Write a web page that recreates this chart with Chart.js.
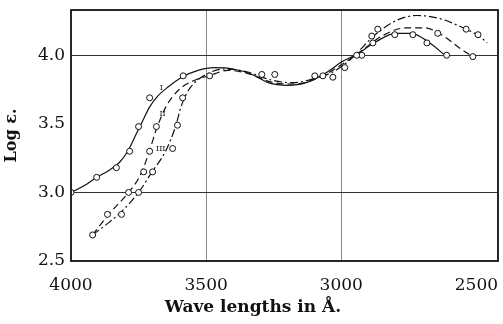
<!DOCTYPE html>
<html>
<head>
<meta charset="utf-8">
<script src="https://cdn.jsdelivr.net/npm/chart.js@4/dist/chart.umd.min.js"></script>
<style>
  html, body { margin: 0; padding: 0; background: #fff; }
  #wrap { width: 503px; height: 324px; }
</style>
</head>
<body>
<div id="wrap"><canvas id="c"></canvas></div>
<script>
// wave length (Å) and log e
const curveI = [
  [4000, 3.00], [3950, 3.05], [3905, 3.11], [3860, 3.16], [3820, 3.22],
  [3790, 3.30], [3760, 3.42], [3735, 3.52], [3710, 3.62], [3680, 3.70],
  [3640, 3.77], [3590, 3.84], [3530, 3.89], [3470, 3.91], [3400, 3.90],
  [3330, 3.86], [3270, 3.80], [3200, 3.78], [3130, 3.80], [3050, 3.88],
  [3000, 3.95], [2940, 4.01], [2870, 4.10], [2800, 4.16], [2740, 4.16],
  [2680, 4.10], [2610, 3.99]
];
const curveII = [
  [3920, 2.69], [3865, 2.83], [3787, 3.00], [3745, 3.12], [3715, 3.27],
  [3684, 3.46], [3650, 3.62], [3600, 3.75], [3540, 3.82], [3490, 3.85],
  [3420, 3.89], [3350, 3.87], [3250, 3.80], [3170, 3.79], [3080, 3.84],
  [3000, 3.93], [2920, 4.04], [2850, 4.14], [2760, 4.20], [2690, 4.20],
  [2630, 4.15], [2560, 4.05], [2513, 3.99]
];
const curveIII = [
  [3920, 2.69], [3860, 2.78], [3813, 2.86], [3750, 3.00], [3700, 3.15],
  [3650, 3.30], [3615, 3.47], [3590, 3.64], [3560, 3.76], [3500, 3.86],
  [3430, 3.90], [3350, 3.88], [3260, 3.82], [3180, 3.80], [3100, 3.83],
  [3030, 3.88], [2960, 3.98], [2880, 4.14], [2800, 4.25], [2720, 4.29],
  [2640, 4.27], [2560, 4.21], [2490, 4.14], [2460, 4.09]
];
const pointsI = [
  [4000, 3.00], [3905, 3.11], [3832, 3.18], [3783, 3.30], [3750, 3.48],
  [3709, 3.69], [3585, 3.85], [3294, 3.86], [3246, 3.86], [2943, 4.00],
  [2802, 4.15], [2735, 4.15], [2683, 4.09], [2610, 4.00]
];
const pointsII = [
  [3920, 2.69], [3865, 2.84], [3787, 3.00], [3731, 3.15], [3709, 3.30],
  [3684, 3.48], [3487, 3.85], [3098, 3.85], [3068, 3.85], [2924, 4.00],
  [2883, 4.09], [2643, 4.16], [2513, 3.99]
];
const pointsIII = [
  [3813, 2.84], [3750, 3.00], [3698, 3.15], [3624, 3.32], [3606, 3.49],
  [3587, 3.69], [3031, 3.84], [2987, 3.91], [2887, 4.14], [2865, 4.19],
  [2538, 4.19], [2494, 4.15]
];
const curveLabels = [
  ["I", 3666, 3.76], ["II", 3661, 3.57], ["III", 3668, 3.32]
];
const xTicks = [4000, 3500, 3000, 2500];
const yTicks = [2.5, 3.0, 3.5, 4.0];

const xy = arr => arr.map(p => ({ x: p[0], y: p[1] }));
const serif = "'DejaVu Serif', serif";

function lineSet(arr, dash) {
  return {
    type: 'line', data: xy(arr), borderColor: '#111', borderWidth: 1.2,
    borderDash: dash, pointRadius: 0, cubicInterpolationMode: 'monotone',
    fill: false, order: 2
  };
}
function pointSet(arr) {
  return {
    type: 'scatter', data: xy(arr), showLine: false, pointRadius: 3,
    pointBorderWidth: 1, pointBorderColor: '#111', pointBackgroundColor: '#fff', order: 1
  };
}

const frame = {
  id: 'frame',
  afterDraw(chart) {
    const { ctx, chartArea: a, scales } = chart;
    ctx.save();
    ctx.strokeStyle = '#111';
    ctx.lineWidth = 1.8;
    ctx.strokeRect(a.left, a.top, a.right - a.left, a.bottom - a.top);
    ctx.fillStyle = '#111';
    ctx.font = "8px " + serif;
    ctx.textAlign = 'center';
    ctx.textBaseline = 'middle';
    curveLabels.forEach(l => {
      ctx.fillText(l[0], scales.x.getPixelForValue(l[1]), scales.y.getPixelForValue(l[2]));
    });
    ctx.font = "bold 17px " + serif;
    ctx.textBaseline = 'alphabetic';
    ctx.fillText('Wave lengths in Å.', 253, 312);
    ctx.restore();
  }
};

new Chart(document.getElementById('c'), {
  data: {
    datasets: [
      lineSet(curveI, []), lineSet(curveII, [7, 4]), lineSet(curveIII, [8, 3, 2, 3]),
      pointSet(pointsI), pointSet(pointsII), pointSet(pointsIII)
    ]
  },
  options: {
    responsive: true,
    maintainAspectRatio: false,
    animation: false,
    layout: { padding: { top: 10, right: 4, bottom: 27, left: 0 } },
    plugins: { legend: { display: false }, tooltip: { enabled: false } },
    scales: {
      x: {
        type: 'linear', reverse: true, min: 2420, max: 4000,
        afterBuildTicks: s => { s.ticks = xTicks.map(v => ({ value: v })); },
        afterFit: s => { s.height = 36; s.paddingLeft = 0; s.paddingRight = 0; },
        grid: {
          drawTicks: false,
          color: c => (c.tick && (c.tick.value === 3500 || c.tick.value === 3000)) ? '#888' : 'rgba(0,0,0,0)'
        },
        border: { display: false },
        ticks: {
          color: '#111', padding: 14, maxRotation: 0, callback: v => String(v),
          font: { family: serif, size: 17 }
        }
      },
      y: {
        min: 2.5, max: 4.33,
        afterBuildTicks: s => { s.ticks = yTicks.map(v => ({ value: v })); },
        afterFit: s => { s.width = 71; s.paddingTop = 0; s.paddingBottom = 0; },
        grid: {
          drawTicks: false,
          color: c => (c.tick && (c.tick.value === 3 || c.tick.value === 4)) ? '#333' : 'rgba(0,0,0,0)'
        },
        border: { display: false },
        title: { display: true, text: 'Log ε.', color: '#111', padding: { top: 2, bottom: 0 }, font: { family: serif, size: 16, weight: 'bold' } },
        ticks: { color: '#111', padding: 6, callback: v => v.toFixed(1), font: { family: serif, size: 17 } }
      }
    }
  },
  plugins: [frame]
});
</script>
</body>
</html>
